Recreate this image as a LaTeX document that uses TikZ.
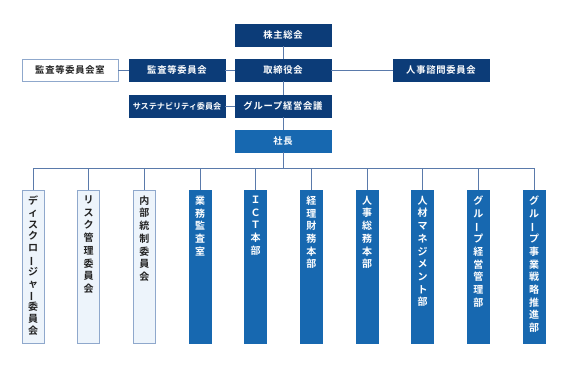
\documentclass[tikz,border=0pt]{standalone}
\usepackage{fontspec}
\setmainfont{Noto Sans CJK JP}[BoldFont={Noto Sans CJK JP Bold}]
\newfontfamily\jpbold{Noto Sans CJK JP Bold}[LetterSpace=8]
\newfontfamily\jpboldv{Noto Sans CJK JP Bold}
\usepackage{graphicx}
\definecolor{navy}{HTML}{0C3C78}
\definecolor{midblue}{HTML}{1768B0}
\definecolor{lightfill}{HTML}{EDF4FB}
\definecolor{lightedge}{HTML}{8FA8CC}
\definecolor{linec}{HTML}{5A7AAB}
\definecolor{txtdark}{HTML}{222222}
\newcommand{\vbar}{\rotatebox[origin=c]{90}{ー}}
\tikzset{
  hbox/.style={draw=navy, fill=navy, text=white, minimum width=96pt, minimum height=22pt, inner sep=0pt,
    font=\jpbold\fontsize{9.3}{11}\selectfont},
  hboxmid/.style={hbox, draw=midblue, fill=midblue},
  hboxlight/.style={hbox, draw=lightedge, fill=white, text=txtdark, line width=0.9pt},
  vboxdark/.style={draw=midblue, fill=midblue, minimum width=22pt, minimum height=153pt, inner sep=0pt},
  vboxlight/.style={draw=lightedge, fill=lightfill, line width=0.9pt, minimum width=22pt, minimum height=153pt, inner sep=0pt},
  vtxt/.style={anchor=north, inner sep=0pt, yshift=-6pt, align=center, font=\jpboldv\fontsize{10}{12.7}\selectfont},
  conn/.style={draw=linec, line width=0.9pt},
}
\begin{document}
\begin{tikzpicture}[x=1pt,y=-1pt]
\useasboundingbox (0,0) rectangle (567,366);
% top boxes
\node[hbox] (kabu) at (283,35) {株主総会};
\node[hbox] (tori) at (283,70) {取締役会};
\node[hbox] (group) at (283,106) {グループ経営会議};
\node[hboxmid] (shacho) at (283,141) {社長};
\node[hbox] (kansa) at (177,70) {監査等委員会};
\node[hboxlight] (kansashitsu) at (70,70) {監査等委員会室};
\node[hbox] (jinji) at (441,70) {人事諮問委員会};
\node[hbox, font=\jpboldv\fontsize{8.1}{10}\selectfont] (sus) at (177,106) {サステナビリティ委員会};
% connectors top
\draw[conn] (kabu.south) -- (tori.north);
\draw[conn] (tori.south) -- (group.north);
\draw[conn] (group.south) -- (shacho.north);
\draw[conn] (kansashitsu.east) -- (kansa.west);
\draw[conn] (kansa.east) -- (tori.west);
\draw[conn] (tori.east) -- (jinji.west);
\draw[conn] (sus.east) -- (group.west);
% vertical boxes
\node[vboxlight] (b1) at (33,266.5) {};
\node[vboxlight] (b2) at (88.67,266.5) {};
\node[vboxlight] (b3) at (144.33,266.5) {};
\node[vboxdark] (b4) at (200,266.5) {};
\node[vboxdark] (b5) at (255.67,266.5) {};
\node[vboxdark] (b6) at (311.33,266.5) {};
\node[vboxdark] (b7) at (367,266.5) {};
\node[vboxdark] (b8) at (422.67,266.5) {};
\node[vboxdark] (b9) at (478.33,266.5) {};
\node[vboxdark] (b10) at (534,266.5) {};
\node[vtxt, text=txtdark, font=\jpboldv\fontsize{10}{11.8}\selectfont] (t1) at (b1.north) {デ\\ィ\\ス\\ク\\ロ\\\vbar\\ジ\\ャ\\\vbar\\委\\員\\会};
\node[vtxt, text=txtdark] (t2) at (b2.north) {リ\\ス\\ク\\管\\理\\委\\員\\会};
\node[vtxt, text=txtdark] (t3) at (b3.north) {内\\部\\統\\制\\委\\員\\会};
\node[vtxt, text=white] (t4) at (b4.north) {業\\務\\監\\査\\室};
\node[vtxt, text=white] (t5) at (b5.north) {Ｉ\\Ｃ\\Ｔ\\本\\部};
\node[vtxt, text=white] (t6) at (b6.north) {経\\理\\財\\務\\本\\部};
\node[vtxt, text=white] (t7) at (b7.north) {人\\事\\総\\務\\本\\部};
\node[vtxt, text=white] (t8) at (b8.north) {人\\材\\マ\\ネ\\ジ\\メ\\ン\\ト\\部};
\node[vtxt, text=white] (t9) at (b9.north) {グ\\ル\\\vbar\\プ\\経\\営\\管\\理\\部};
\node[vtxt, text=white] (t10) at (b10.north) {グ\\ル\\\vbar\\プ\\事\\業\\戦\\略\\推\\進\\部};
% bus
\coordinate (busc) at (283,168);
\draw[conn] (shacho.south) -- (busc);
\draw[conn] (b1.north) -- (b1.north |- busc) -- (b10.north |- busc) -- (b10.north);
\foreach \k in {2,...,9} { \draw[conn] (b\k.north) -- (b\k.north |- busc); }
\end{tikzpicture}
\end{document}
